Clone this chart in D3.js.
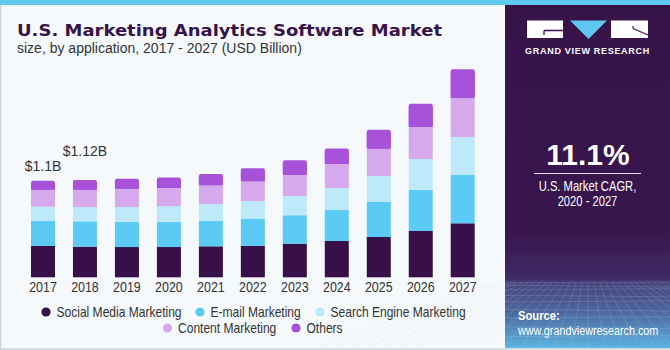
<!DOCTYPE html>
<html><head><meta charset="utf-8">
<script src="https://cdn.jsdelivr.net/npm/d3@7"></script>
<style>
html,body{margin:0;padding:0;background:#fff;}
svg{display:block;}
text{font-family:'Liberation Sans',Arial,sans-serif;}
</style></head><body>
<svg id="chart" width="670" height="350"></svg>
<script>
const years = ["2017","2018","2019","2020","2021","2022","2023","2024","2025","2026","2027"];
const seriesNames = ["Social Media Marketing","E-mail Marketing","Search Engine Marketing","Content Marketing","Others"];
const socialMedia = [0.358,0.350,0.346,0.346,0.354,0.361,0.384,0.415,0.461,0.529,0.617];
const email      = [0.289,0.290,0.286,0.289,0.293,0.309,0.325,0.354,0.403,0.469,0.555];
const searchEng  = [0.160,0.163,0.171,0.179,0.191,0.202,0.221,0.251,0.294,0.354,0.431];
const content    = [0.194,0.198,0.209,0.206,0.214,0.225,0.240,0.274,0.312,0.366,0.446];
const others     = [0.103,0.111,0.114,0.122,0.129,0.149,0.168,0.179,0.217,0.266,0.328];
const colors = ["#37104a","#5bcbf5","#bde9f8","#d5a9ec","#a752d9"];
const valueLabels = [{year:"2017",text:"$1.1B",gap:10},{year:"2018",text:"$1.12B",gap:24}];

const svg = d3.select("#chart");
const W = 670, H = 350;
const NARROW = 0.84;

// helper: condensed text placed at (x,y)
function ntext(parent, x0, y0, str, size, opts={}){
  const g = parent.append("g").attr("transform",`translate(${x0},${y0}) scale(${opts.sx||NARROW},1)`);
  const t = g.append("text").attr("x",0).attr("y",0).attr("font-size",size)
    .attr("fill",opts.fill||"#333").attr("text-anchor",opts.anchor||"start").text(str);
  if (opts.dy) t.attr("dy",opts.dy);
  if (opts.bold) t.attr("font-weight","bold");
  return t;
}

// background
svg.append("rect").attr("width",W).attr("height",H).attr("fill","#f5f9fc");
svg.append("rect").attr("x",0.5).attr("y",0.5).attr("width",W-1).attr("height",H-1.5)
  .attr("fill","none").attr("stroke","#d0d3d6").attr("stroke-width",1.5);

// right panel
const defs = svg.append("defs");
const g1 = defs.append("linearGradient").attr("id","pg").attr("x1",0).attr("y1",0).attr("x2",0).attr("y2",1);
g1.append("stop").attr("offset","0%").attr("stop-color","#37134a");
g1.append("stop").attr("offset","66%").attr("stop-color","#38154c");
g1.append("stop").attr("offset","80%").attr("stop-color","#3f2b66");
g1.append("stop").attr("offset","81%").attr("stop-color","#45407a");
g1.append("stop").attr("offset","90%").attr("stop-color","#4d6aa0");
g1.append("stop").attr("offset","100%").attr("stop-color","#5cb3e0");
svg.append("rect").attr("x",505).attr("y",0).attr("width",165).attr("height",348).attr("fill","url(#pg)");

// grid pattern in panel bottom
const gridG = svg.append("g").attr("opacity",0.3).attr("stroke","#c9dcf5").attr("stroke-width",0.6).attr("fill","none");
const horizonY = 283;
for (let i=0;i<10;i++){
  const yy = horizonY + Math.pow(i/9,1.5)*64;
  gridG.append("line").attr("x1",505).attr("x2",670).attr("y1",yy).attr("y2",yy+ (i%2? 1.5:-1));
}
for (let i=-16;i<=16;i++){
  const xTop = 588 + i*6, xBot = 588 + i*17;
  gridG.append("line").attr("x1",xTop).attr("y1",horizonY).attr("x2",xBot).attr("y2",348);
}

// top stripe
svg.append("rect").attr("x",0).attr("y",0).attr("width",W).attr("height",5).attr("fill","#5ec8f0");

// logo
const logo = svg.append("g");
logo.append("rect").attr("x",527).attr("y",20.5).attr("width",36).attr("height",17.5).attr("fill","#fff");
logo.append("path").attr("d","M544,30.5 H563 M544,30.5 V35").attr("stroke","#37134a").attr("stroke-width",1.3).attr("fill","none");
logo.append("path").attr("d","M570,20.5 L607,20.5 L588.5,39 Z").attr("fill","#5ec8f0");
logo.append("rect").attr("x",611).attr("y",20.5).attr("width",37).attr("height",17.5).attr("fill","#fff");
logo.append("path").attr("d","M633,28.5 L648,35 M633,28.5 V26").attr("stroke","#37134a").attr("stroke-width",1.2).attr("fill","none");
logo.append("text").attr("x",587.5).attr("y",54).attr("text-anchor","middle")
  .attr("fill","#fff").attr("font-size",9).attr("font-weight","bold").attr("letter-spacing",0.7)
  .text("GRAND VIEW RESEARCH");

// CAGR
svg.append("text").attr("x",588).attr("y",165).attr("text-anchor","middle").attr("fill","#fff")
  .attr("font-size",30).attr("font-weight","bold").text("11.1%");
svg.append("line").attr("x1",534).attr("x2",641).attr("y1",173.5).attr("y2",173.5).attr("stroke","#e6e0ec").attr("stroke-width",1.2);
ntext(svg, 587.5, 191, "U.S. Market CAGR,", 14, {fill:"#fff", anchor:"middle", sx:0.8});
ntext(svg, 587.5, 206, "2020 - 2027", 14, {fill:"#fff", anchor:"middle", sx:0.8});

// source
ntext(svg, 518, 320, "Source:", 12.5, {fill:"#fff", bold:true, sx:0.9});
ntext(svg, 518, 335, "www.grandviewresearch.com", 12, {fill:"#fff", sx:0.9});

// title
svg.append("text").attr("x",17).attr("y",35.5).attr("fill","#37134a").attr("font-size",16).attr("font-weight","bold")
  .style("font-family","'DejaVu Sans',sans-serif")
  .attr("textLength",425).attr("lengthAdjust","spacingAndGlyphs")
  .text("U.S. Marketing Analytics Software Market");
svg.append("text").attr("x",17).attr("y",53).attr("fill","#333").attr("font-size",14)
  .text("size, by application, 2017 - 2027 (USD Billion)");

// scales
const x = d3.scaleBand().domain(years).range([22,483.7]).paddingInner(0.428).paddingOuter(0.214);
const y = d3.scaleLinear().domain([0,3]).range([277.3, 277.3-3*87.5]);

const table = years.map((yr,i)=>({year:yr, s0:socialMedia[i], s1:email[i], s2:searchEng[i], s3:content[i], s4:others[i]}));
const stack = d3.stack().keys(["s0","s1","s2","s3","s4"])(table);

const barsG = svg.append("g");
stack.forEach((layer,li)=>{
  barsG.selectAll(null).data(layer).enter().append("rect")
    .attr("x",d=>x(d.data.year))
    .attr("width",x.bandwidth())
    .attr("y",d=>y(d[1]))
    .attr("height",d=>y(d[0])-y(d[1]))
    .attr("rx", li===4 ? 2 : 0)
    .attr("fill",colors[li]);
  if (li===4){
    barsG.selectAll(null).data(layer).enter().append("rect")
      .attr("x",d=>x(d.data.year))
      .attr("width",x.bandwidth())
      .attr("y",d=>y(d[1])+3)
      .attr("height",d=>y(d[0])-y(d[1])-3)
      .attr("fill",colors[li]);
  }
});

// x axis
const xAxis = d3.axisBottom(x).tickSize(0).tickPadding(4);
const ax = svg.append("g").attr("transform","translate(0,277.3)").call(xAxis);
ax.select(".domain").remove();
ax.selectAll("text").attr("font-size",15).attr("fill","#333")
  .style("font-family","'Liberation Sans',Arial,sans-serif")
  .attr("transform",`scale(${NARROW - 0.01},1)`);

// value labels
const totals = years.map((yr,i)=>socialMedia[i]+email[i]+searchEng[i]+content[i]+others[i]);
valueLabels.forEach(v=>{
  const i = years.indexOf(v.year);
  svg.append("text").attr("x",x(v.year)+x.bandwidth()/2).attr("y",y(totals[i])-v.gap)
    .attr("text-anchor","middle").attr("fill","#333").attr("font-size",14)
    .text(v.text);
});

// legend
const legendPos = [
  {cx:46, ty:312},{cx:200, ty:312},{cx:320, ty:312},{cx:167.5, ty:328},{cx:296, ty:328}
];
const lg = svg.append("g");
seriesNames.forEach((n,i)=>{
  const p = legendPos[i];
  lg.append("circle").attr("cx",p.cx).attr("cy",p.ty).attr("r",4.6).attr("fill",colors[i]);
  ntext(lg, p.cx+10.5, p.ty, n, 14, {dy:"0.35em", sx:0.86});
});
</script>
</body></html>
